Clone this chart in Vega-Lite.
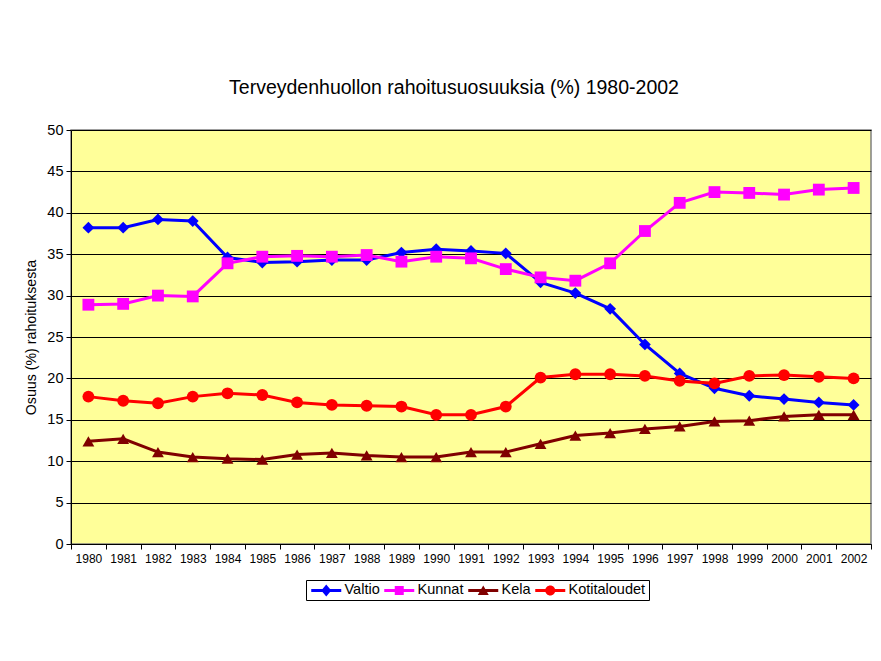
{
  "$schema": "https://vega.github.io/schema/vega-lite/v6.json",
  "autosize": {"type": "none"},
  "width": 800,
  "height": 414,
  "padding": {"left": 71, "top": 130, "right": 10, "bottom": 117},
  "background": "white",
  "title": {"text": "Terveydenhuollon rahoitusuosuuksia (%) 1980-2002", "font": "Liberation Sans", "fontSize": 19.5, "fontWeight": "normal", "color": "black", "offset": 24, "dx": -17},
  "config": {
    "font": "Liberation Sans",
    "view": {"fill": "#FFFF99", "stroke": "#808080", "strokeWidth": 1.5},
    "axis": {"labelFont": "Liberation Sans", "titleFont": "Liberation Sans", "labelColor": "black", "titleColor": "black", "domainColor": "black", "tickColor": "black"}
  },
  "datasets": {
    "d": [
      {"year": "1980", "series": "Valtio", "value": 38.2},
      {"year": "1981", "series": "Valtio", "value": 38.2},
      {"year": "1982", "series": "Valtio", "value": 39.2},
      {"year": "1983", "series": "Valtio", "value": 39.0},
      {"year": "1984", "series": "Valtio", "value": 34.6},
      {"year": "1985", "series": "Valtio", "value": 34.0},
      {"year": "1986", "series": "Valtio", "value": 34.1},
      {"year": "1987", "series": "Valtio", "value": 34.3},
      {"year": "1988", "series": "Valtio", "value": 34.3},
      {"year": "1989", "series": "Valtio", "value": 35.2},
      {"year": "1990", "series": "Valtio", "value": 35.6},
      {"year": "1991", "series": "Valtio", "value": 35.4},
      {"year": "1992", "series": "Valtio", "value": 35.1},
      {"year": "1993", "series": "Valtio", "value": 31.6},
      {"year": "1994", "series": "Valtio", "value": 30.3},
      {"year": "1995", "series": "Valtio", "value": 28.4},
      {"year": "1996", "series": "Valtio", "value": 24.1},
      {"year": "1997", "series": "Valtio", "value": 20.6},
      {"year": "1998", "series": "Valtio", "value": 18.8},
      {"year": "1999", "series": "Valtio", "value": 17.9},
      {"year": "2000", "series": "Valtio", "value": 17.5},
      {"year": "2001", "series": "Valtio", "value": 17.1},
      {"year": "2002", "series": "Valtio", "value": 16.8},
      {"year": "1980", "series": "Kunnat", "value": 28.9},
      {"year": "1981", "series": "Kunnat", "value": 29.0},
      {"year": "1982", "series": "Kunnat", "value": 30.0},
      {"year": "1983", "series": "Kunnat", "value": 29.9},
      {"year": "1984", "series": "Kunnat", "value": 33.9},
      {"year": "1985", "series": "Kunnat", "value": 34.7},
      {"year": "1986", "series": "Kunnat", "value": 34.8},
      {"year": "1987", "series": "Kunnat", "value": 34.7},
      {"year": "1988", "series": "Kunnat", "value": 34.9},
      {"year": "1989", "series": "Kunnat", "value": 34.1},
      {"year": "1990", "series": "Kunnat", "value": 34.7},
      {"year": "1991", "series": "Kunnat", "value": 34.5},
      {"year": "1992", "series": "Kunnat", "value": 33.2},
      {"year": "1993", "series": "Kunnat", "value": 32.2},
      {"year": "1994", "series": "Kunnat", "value": 31.8},
      {"year": "1995", "series": "Kunnat", "value": 33.9},
      {"year": "1996", "series": "Kunnat", "value": 37.8},
      {"year": "1997", "series": "Kunnat", "value": 41.2},
      {"year": "1998", "series": "Kunnat", "value": 42.5},
      {"year": "1999", "series": "Kunnat", "value": 42.4},
      {"year": "2000", "series": "Kunnat", "value": 42.2},
      {"year": "2001", "series": "Kunnat", "value": 42.8},
      {"year": "2002", "series": "Kunnat", "value": 43.0},
      {"year": "1980", "series": "Kela", "value": 12.4},
      {"year": "1981", "series": "Kela", "value": 12.7},
      {"year": "1982", "series": "Kela", "value": 11.1},
      {"year": "1983", "series": "Kela", "value": 10.5},
      {"year": "1984", "series": "Kela", "value": 10.3},
      {"year": "1985", "series": "Kela", "value": 10.2},
      {"year": "1986", "series": "Kela", "value": 10.8},
      {"year": "1987", "series": "Kela", "value": 11.0},
      {"year": "1988", "series": "Kela", "value": 10.7},
      {"year": "1989", "series": "Kela", "value": 10.5},
      {"year": "1990", "series": "Kela", "value": 10.5},
      {"year": "1991", "series": "Kela", "value": 11.1},
      {"year": "1992", "series": "Kela", "value": 11.1},
      {"year": "1993", "series": "Kela", "value": 12.1},
      {"year": "1994", "series": "Kela", "value": 13.1},
      {"year": "1995", "series": "Kela", "value": 13.4},
      {"year": "1996", "series": "Kela", "value": 13.9},
      {"year": "1997", "series": "Kela", "value": 14.2},
      {"year": "1998", "series": "Kela", "value": 14.8},
      {"year": "1999", "series": "Kela", "value": 14.9},
      {"year": "2000", "series": "Kela", "value": 15.4},
      {"year": "2001", "series": "Kela", "value": 15.6},
      {"year": "2002", "series": "Kela", "value": 15.6},
      {"year": "1980", "series": "Kotitaloudet", "value": 17.8},
      {"year": "1981", "series": "Kotitaloudet", "value": 17.3},
      {"year": "1982", "series": "Kotitaloudet", "value": 17.0},
      {"year": "1983", "series": "Kotitaloudet", "value": 17.8},
      {"year": "1984", "series": "Kotitaloudet", "value": 18.2},
      {"year": "1985", "series": "Kotitaloudet", "value": 18.0},
      {"year": "1986", "series": "Kotitaloudet", "value": 17.1},
      {"year": "1987", "series": "Kotitaloudet", "value": 16.8},
      {"year": "1988", "series": "Kotitaloudet", "value": 16.7},
      {"year": "1989", "series": "Kotitaloudet", "value": 16.6},
      {"year": "1990", "series": "Kotitaloudet", "value": 15.6},
      {"year": "1991", "series": "Kotitaloudet", "value": 15.6},
      {"year": "1992", "series": "Kotitaloudet", "value": 16.6},
      {"year": "1993", "series": "Kotitaloudet", "value": 20.1},
      {"year": "1994", "series": "Kotitaloudet", "value": 20.5},
      {"year": "1995", "series": "Kotitaloudet", "value": 20.5},
      {"year": "1996", "series": "Kotitaloudet", "value": 20.3},
      {"year": "1997", "series": "Kotitaloudet", "value": 19.7},
      {"year": "1998", "series": "Kotitaloudet", "value": 19.4},
      {"year": "1999", "series": "Kotitaloudet", "value": 20.3},
      {"year": "2000", "series": "Kotitaloudet", "value": 20.4},
      {"year": "2001", "series": "Kotitaloudet", "value": 20.2},
      {"year": "2002", "series": "Kotitaloudet", "value": 20.0}
    ]
  },
  "data": {"name": "d"},
  "encoding": {
    "x": {
      "field": "year", "type": "ordinal", "bandPosition": 0.5,
      "scale": {"type": "band", "paddingInner": 0, "paddingOuter": 0},
      "axis": {"title": null, "labelAngle": 0, "tickBand": "extent", "tickSize": 5, "labelFontSize": 12, "labelPadding": 4, "grid": false, "domainWidth": 1}
    },
    "y": {
      "field": "value", "type": "quantitative",
      "scale": {"domain": [0, 50], "nice": false},
      "axis": {"title": "Osuus (%) rahoituksesta", "titleFontSize": 14.2, "titleFontWeight": "normal", "titlePadding": 8, "values": [0, 5, 10, 15, 20, 25, 30, 35, 40, 45, 50], "tickSize": 5, "labelFontSize": 14.5, "labelPadding": 3, "grid": true, "gridColor": "black", "gridWidth": 1, "gridOpacity": 1, "domainWidth": 1}
    },
    "color": {
      "field": "series", "type": "nominal",
      "scale": {"domain": ["Valtio", "Kunnat", "Kela", "Kotitaloudet"], "range": ["#0000FF", "#FF00FF", "#800000", "#FF0000"]},
      "legend": {
        "title": null, "orient": "none", "legendX": 235, "legendY": 450, "direction": "horizontal",
        "strokeColor": "black", "fillColor": "white", "padding": 3, "labelFontSize": 14.5, "labelFont": "Liberation Sans", "labelColor": "black",
        "symbolSize": 100, "columnPadding": 2, "symbolStrokeWidth": 0, "labelOffset": 21,
        "symbolOpacity": 1,
        "encoding": {"symbols": {"shape": {"value": {"expr": "datum.value === 'Valtio' ? 'M-1,-0.3H5V0.3H-1Z M2,-1.2L3,0L2,1.2L1,0Z' : datum.value === 'Kunnat' ? 'M-1,-0.3H5V0.3H-1Z M1.1,-0.9H2.9V0.9H1.1Z' : datum.value === 'Kela' ? 'M-1,-0.3H5V0.3H-1Z M2,-1L3.1,0.9H0.9Z' : 'M-1,-0.3H5V0.3H-1Z M1,0A1,1 0 1,1 3,0A1,1 0 1,1 1,0Z'"}}}}
      }
    },
    "shape": {
      "field": "series", "type": "nominal",
      "scale": {"domain": ["Kela", "Kotitaloudet", "Kunnat", "Valtio"], "range": ["triangle-up", "circle", "square", "diamond"]},
      "legend": null
    }
  },
  "layer": [
    {"mark": {"type": "line", "strokeWidth": 3}, "encoding": {"shape": null}},
    {"mark": {"type": "point", "filled": true, "opacity": 1, "size": 140}}
  ]
}
